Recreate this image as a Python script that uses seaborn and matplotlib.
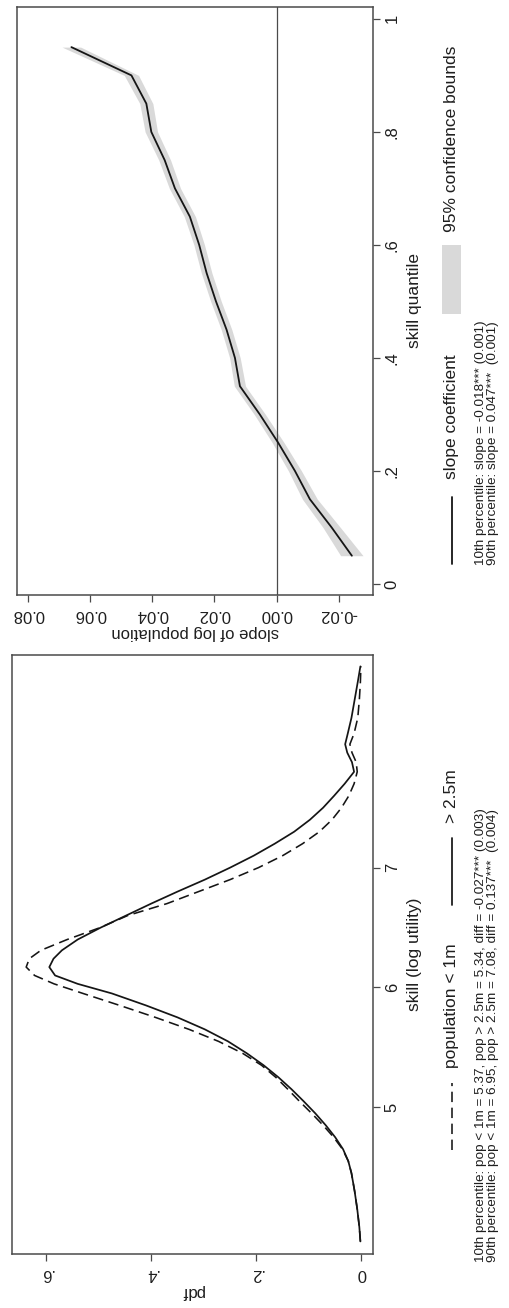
import numpy as np
import pandas as pd
import matplotlib
matplotlib.use("Agg")
import matplotlib.pyplot as plt
import seaborn as sns
from matplotlib.lines import Line2D
from matplotlib.patches import Rectangle

# ---------------- data ----------------
# top panel: slope of log population by skill quantile
quantile = [0.05, 0.10, 0.15, 0.20, 0.25, 0.30, 0.35, 0.40, 0.45, 0.50,
            0.55, 0.60, 0.65, 0.70, 0.75, 0.80, 0.85, 0.90, 0.95]
slope = [-0.0242, -0.0177, -0.0107, -0.0059, -0.0005, 0.0054, 0.0118, 0.0134,
         0.0161, 0.0195, 0.0225, 0.0249, 0.0279, 0.0327, 0.0360, 0.0403,
         0.0419, 0.0467, 0.0660]
ci_half = [0.0036, 0.0028, 0.0024, 0.0021, 0.0019, 0.0018, 0.0018, 0.0017,
           0.0017, 0.0017, 0.0017, 0.0017, 0.0018, 0.0018, 0.0019, 0.0020,
           0.0021, 0.0023, 0.0030]

# bottom panel: skill densities
skill = [3.88, 4.00, 4.15, 4.30, 4.45, 4.55, 4.65, 4.75, 4.85, 4.95, 5.05,
         5.15, 5.25, 5.35, 5.45, 5.55, 5.65, 5.75, 5.85, 5.95, 6.03, 6.10,
         6.17, 6.24, 6.31, 6.40, 6.50, 6.60, 6.70, 6.80, 6.90, 7.00, 7.10,
         7.20, 7.30, 7.40, 7.50, 7.60, 7.70, 7.80, 7.88, 7.96, 8.03, 8.12,
         8.25, 8.40, 8.55, 8.68]
pdf_small = [0.002, 0.004, 0.008, 0.013, 0.019, 0.025, 0.036, 0.053, 0.073,
             0.095, 0.118, 0.140, 0.163, 0.190, 0.226, 0.272, 0.328, 0.392,
             0.460, 0.530, 0.585, 0.622, 0.638, 0.632, 0.610, 0.560, 0.497,
             0.445, 0.370, 0.310, 0.250, 0.196, 0.150, 0.112, 0.080, 0.056,
             0.038, 0.024, 0.014, 0.008, 0.010, 0.018, 0.022, 0.014, 0.007,
             0.004, 0.002, 0.001]
pdf_large = [0.002, 0.004, 0.008, 0.013, 0.019, 0.025, 0.035, 0.050, 0.068,
             0.088, 0.110, 0.133, 0.158, 0.186, 0.218, 0.254, 0.298, 0.350,
             0.410, 0.475, 0.540, 0.583, 0.594, 0.586, 0.570, 0.540, 0.496,
             0.448, 0.400, 0.350, 0.298, 0.250, 0.205, 0.165, 0.128, 0.098,
             0.073, 0.052, 0.032, 0.014, 0.018, 0.027, 0.031, 0.026, 0.019,
             0.013, 0.007, 0.002]

q_ticks = [0, 0.2, 0.4, 0.6, 0.8, 1.0]
q_labels = ["0", ".2", ".4", ".6", ".8", "1"]
s_ticks = [-0.02, 0.0, 0.02, 0.04, 0.06, 0.08]
s_labels = ["-0.02", "0.00", "0.02", "0.04", "0.06", "0.08"]
k_ticks = [5, 6, 7]
k_labels = ["5", "6", "7"]
p_ticks = [0, 0.2, 0.4, 0.6]
p_labels = ["0", ".2", ".4", ".6"]

# ---------------- style ----------------
sns.set_theme(style="white")
plt.rcParams['font.family'] = ['Liberation Sans', 'DejaVu Sans']
TXT = "#1e1e1e"
FR = "#4a4a4a"
LN = "#151515"

W, H = 510, 1308
fig = plt.figure(figsize=(W / 100, H / 100), dpi=100)
fig.patch.set_facecolor("white")


def ax_rect(x0, y0, x1, y1):
    return [x0 / W, 1 - y1 / H, (x1 - x0) / W, (y1 - y0) / H]


def fx(x):
    return x / W


def fy(y):
    return 1 - y / H


ax1 = fig.add_axes(ax_rect(17, 7, 373, 595))
ax2 = fig.add_axes(ax_rect(12, 655, 373, 1254))

for ax in (ax1, ax2):
    for sp in ax.spines.values():
        sp.set_color(FR)
        sp.set_linewidth(1.1)
    ax.tick_params(axis="both", direction="out", length=5, width=0.9,
                   color=FR, labelsize=12, labelcolor=TXT,
                   bottom=True, top=False, left=False, right=True,
                   labelbottom=True, labelleft=False, labelright=True)
    ax.grid(False)

# ---- top panel ----
lo = [s - h for s, h in zip(slope, ci_half)]
hi = [s + h for s, h in zip(slope, ci_half)]
ax1.fill_betweenx(quantile, lo, hi, color="#d9d9d9", lw=0)
ax1.axvline(0, color=FR, lw=0.9, zorder=1)
sns.lineplot(x=slope, y=quantile, orient="y", sort=False, ax=ax1,
             color=LN, lw=1.3, zorder=3)
ax1.set_xlim(0.0835, -0.031)
ax1.set_ylim(-0.0195, 1.021)
ax1.set_xticks(s_ticks)
ax1.set_xticklabels(s_labels, rotation=180)
ax1.set_yticks(q_ticks)
ax1.set_yticklabels(q_labels, rotation=90, va="center")
ax1.yaxis.set_label_position("right")
ax1.set_ylabel("skill quantile", rotation=90, fontsize=12.5, color=TXT,
               labelpad=5, va="top")
ax1.set_xlabel("slope of log population", rotation=180, fontsize=12,
               color=TXT, labelpad=2)

# ---- bottom panel ----
sns.lineplot(x=pdf_small, y=skill, orient="y", sort=False, ax=ax2,
             color=LN, lw=1.15, linestyle=(0, (6.5, 3.5)))
sns.lineplot(x=pdf_large, y=skill, orient="y", sort=False, ax=ax2,
             color=LN, lw=1.25)
ax2.set_xlim(0.665, -0.022)
ax2.set_ylim(3.775, 8.775)
ax2.set_xticks(p_ticks)
ax2.set_xticklabels(p_labels, rotation=180)
ax2.set_yticks(k_ticks)
ax2.set_yticklabels(k_labels, rotation=90, va="center")
ax2.yaxis.set_label_position("right")
ax2.set_ylabel("skill (log utility)", rotation=90, fontsize=12.5, color=TXT,
               labelpad=5, va="top")
ax2.set_xlabel("pdf", rotation=180, fontsize=12, color=TXT, labelpad=2)

# ---- legends (rotated, drawn in figure coordinates) ----
def vline(x, y0, y1, **kw):
    fig.add_artist(Line2D([fx(x), fx(x)], [fy(y0), fy(y1)],
                          transform=fig.transFigure, color=LN, **kw))


def vtext(x, y, s, size=12.5):
    fig.text(fx(x), fy(y), s, rotation=90, rotation_mode="anchor",
             ha="left", va="center", fontsize=size, color=TXT)


# top legend
vline(452, 564, 497, lw=1.3)
vtext(452, 479, "slope coefficient")
fig.add_artist(Rectangle((fx(442), fy(314)), (461 - 442) / W, (314 - 245) / H,
                         transform=fig.transFigure, color="#d9d9d9", lw=0))
vtext(452, 232, "95% confidence bounds")
vtext(481, 565, "10th percentile: slope = -0.018*** (0.001)", size=9.7)
vtext(493, 565, "90th percentile: slope = 0.047***  (0.001)", size=9.7)

# bottom legend
vline(452, 1150, 1083, lw=1.15, linestyle=(0, (6.5, 3.5)))
vtext(452, 1068, "population < 1m")
vline(452, 905, 838, lw=1.25)
vtext(452, 823, "> 2.5m")
vtext(481, 1262, "10th percentile: pop < 1m = 5.37, pop > 2.5m = 5.34, diff = -0.027*** (0.003)", size=9.7)
vtext(493, 1262, "90th percentile: pop < 1m = 6.95, pop > 2.5m = 7.08, diff = 0.137***  (0.004)", size=9.7)

fig.savefig("out.png", dpi=100, facecolor="white")
